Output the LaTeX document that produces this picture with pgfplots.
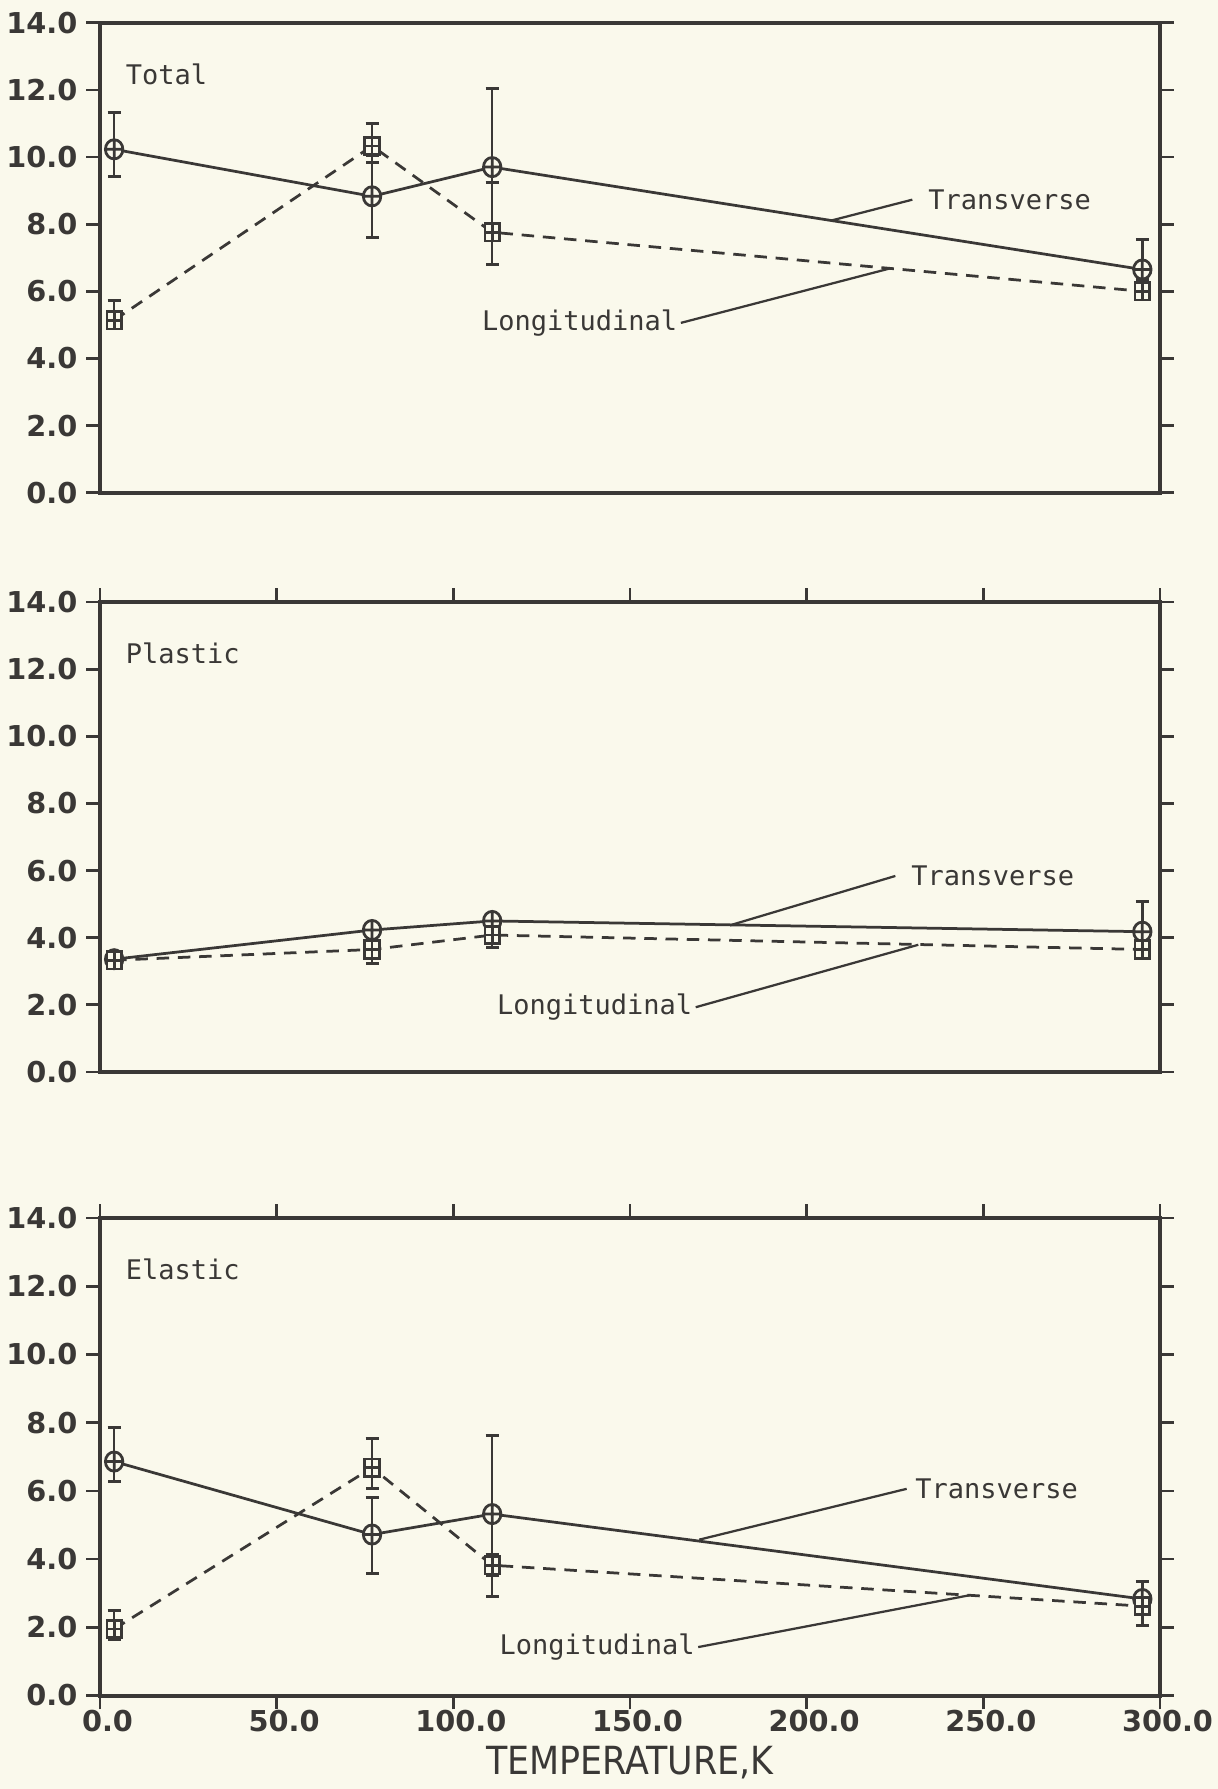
\documentclass[border=0pt]{standalone}
\usepackage{pgfplots}
\pgfplotsset{compat=1.18}
\usetikzlibrary{plotmarks}
\usepackage{fontspec}
\setmainfont{DejaVu Sans}
\newfontfamily\monofont{DejaVu Sans Mono}
\newfontfamily\condfont{DejaVu Sans Condensed}

\definecolor{paper}{RGB}{250,249,236}
\definecolor{ink}{RGB}{58,56,54}

% square with a cross inside, filled with the paper colour
\pgfdeclareplotmark{boxplus*}{%
  \pgfpathrectangle{\pgfqpoint{-\pgfplotmarksize}{-\pgfplotmarksize}}{\pgfqpoint{2\pgfplotmarksize}{2\pgfplotmarksize}}%
  \pgfusepathqfillstroke
  \pgfpathmoveto{\pgfqpoint{-\pgfplotmarksize}{0pt}}\pgfpathlineto{\pgfqpoint{\pgfplotmarksize}{0pt}}%
  \pgfpathmoveto{\pgfqpoint{0pt}{-\pgfplotmarksize}}\pgfpathlineto{\pgfqpoint{0pt}{\pgfplotmarksize}}%
  \pgfusepathqstroke}

\tikzset{
  lbl/.style={font=\monofont\fontsize{10.8}{12}\selectfont, text=ink, inner sep=1pt},
  lead/.style={ink, line width=0.9pt},
}

\pgfplotsset{
  panel/.style={
    scale only axis, width=424pt, height=188pt,
    anchor=north west,
    xmin=0, xmax=300, ymin=0, ymax=14,
    ytick={0,2,...,14}, ytick pos=both, yticklabel pos=left,
    tick align=outside, major tick length=5.5pt,
    axis line style={ink, line width=1.6pt},
    every tick/.style={ink, line width=1.1pt},
    ticklabel style={font=\bfseries\fontsize{11.5}{12}\selectfont, text=ink},
    /pgf/number format/fixed, /pgf/number format/fixed zerofill,
    /pgf/number format/precision=1, /pgf/number format/assume math mode=true,
  },
  trans/.style={ink, line width=1.1pt, mark=oplus*, mark size=3.5pt,
    mark options={solid, fill=paper, yscale=1.1},
    error bars/y dir=both, error bars/y explicit,
    error bars/error bar style={ink, line width=1pt, solid},
    error bars/error mark options={ink, line width=1.2pt, mark size=2.6pt, rotate=90}},
  longi/.style={ink, line width=1.1pt, dash pattern=on 5pt off 3.5pt, mark=boxplus*, mark size=2.9pt,
    mark options={solid, fill=paper, yscale=1.2},
    error bars/y dir=both, error bars/y explicit,
    error bars/error bar style={ink, line width=1pt, solid},
    error bars/error mark options={ink, line width=1.2pt, mark size=2.6pt, rotate=90}},
}

\begin{document}
\begin{tikzpicture}
\fill[paper] (0,0) rectangle (487.2pt,-715.6pt);
\useasboundingbox (0,0) rectangle (487.2pt,-715.6pt);

% Total
\begin{axis}[panel, at={(40pt,-9.1pt)}, xtick=\empty]
\addplot[trans] coordinates {
  (4,10.23) += (0,1.1) -= (0,0.8)
  (77,8.83) += (0,1.22) -= (0,1.22)
  (111,9.70) += (0,2.35) -= (0,0.45)
  (295,6.65) += (0,0.89) -= (0,0.3)
};
\addplot[longi] coordinates {
  (4,5.14) += (0,0.6) -= (0,0.2)
  (77,10.33) += (0,0.67) -= (0,0.5)
  (111,7.76) += (0,1.49) -= (0,0.95)
  (295,6.0) += (0,0.2) -= (0,0.2)
};
\node[lbl, anchor=west] at (axis cs:6.5,12.47) {Total};
\draw[lead] (axis cs:207,8.11) -- (axis cs:229.9,8.73) node[lbl, anchor=west, xshift=5pt] {Transverse};
\draw[lead] (axis cs:223.5,6.68) -- (axis cs:164.4,5.06) node[lbl, anchor=east] {Longitudinal};
\end{axis}

% Plastic
\begin{axis}[panel, at={(40pt,-240.8pt)}, xtick={0,50,...,300}, xtick pos=upper, xticklabels={}]
\addplot[trans] coordinates {
  (4,3.36) += (0,0.1) -= (0,0.1)
  (77,4.23) += (0,0.2) -= (0,0.2)
  (111,4.50) += (0,0.15) -= (0,0.15)
  (295,4.18) += (0,0.89) -= (0,0.2)
};
\addplot[longi] coordinates {
  (4,3.33) += (0,0.1) -= (0,0.1)
  (77,3.65) += (0,0.2) -= (0,0.41)
  (111,4.08) += (0,0.2) -= (0,0.37)
  (295,3.65) += (0,0.1) -= (0,0.1)
};
\node[lbl, anchor=west] at (axis cs:6.5,12.47) {Plastic};
\draw[lead] (axis cs:178.3,4.37) -- (axis cs:225.1,5.84) node[lbl, anchor=west, xshift=5pt] {Transverse};
\draw[lead] (axis cs:231.6,3.79) -- (axis cs:168.6,1.93) node[lbl, anchor=east] {Longitudinal};
\end{axis}

% Elastic
\begin{axis}[panel, at={(40pt,-487.2pt)}, height=191pt,
  xtick={0,50,...,300}, xtick pos=both, xticklabel pos=lower,
  xticklabel style={yshift=3pt, xshift=3pt},
  xlabel={TEMPERATURE,K},
  xlabel style={font=\condfont\fontsize{15.5}{16}\selectfont, text=ink, yshift=1.5pt}]
\addplot[trans] coordinates {
  (4,6.86) += (0,1.0) -= (0,0.58)
  (77,4.72) += (0,1.1) -= (0,1.15)
  (111,5.32) += (0,2.3) -= (0,2.42)
  (295,2.83) += (0,0.5) -= (0,0.3)
};
\addplot[longi] coordinates {
  (4,1.95) += (0,0.55) -= (0,0.3)
  (77,6.68) += (0,0.85) -= (0,0.62)
  (111,3.82) += (0,0.3) -= (0,0.3)
  (295,2.62) += (0,0.3) -= (0,0.57)
};
\node[lbl, anchor=west] at (axis cs:6.5,12.5) {Elastic};
\draw[lead] (axis cs:169.6,4.57) -- (axis cs:228.3,6.06) node[lbl, anchor=west, xshift=2pt] {Transverse};
\draw[lead] (axis cs:246.1,2.94) -- (axis cs:169.3,1.42) node[lbl, anchor=east] {Longitudinal};
\end{axis}
\end{tikzpicture}
\end{document}
